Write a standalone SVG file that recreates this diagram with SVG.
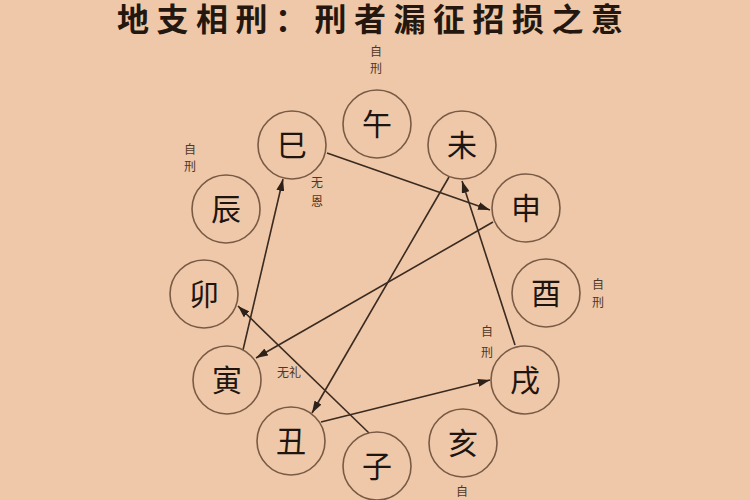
<svg xmlns="http://www.w3.org/2000/svg" width="750" height="500" viewBox="0 0 750 500">
  <defs>
    <marker id="arr" viewBox="0 0 12 8" refX="12" refY="4" markerWidth="12" markerHeight="8" markerUnits="userSpaceOnUse" orient="auto">
      <path d="M0,0 L12,4 L0,8 z" fill="#2e211a"/>
    </marker>
  </defs>
  <style>
    .node circle { fill: none; stroke: #7a5a44; stroke-width: 1.6; }
    .node text { font-family: "Noto Sans CJK SC", "Noto Sans CJK JP", sans-serif; font-size: 30px; fill: #1e1510; text-anchor: middle; }
    .conn line { stroke: #3a2a20; stroke-width: 1.6; marker-end: url(#arr); }
    .note { font-family: "Noto Sans CJK SC", sans-serif; font-size: 12px; fill: #4e3728; text-anchor: middle; }
    .title { font-family: "Noto Sans CJK SC", sans-serif; font-size: 32px; font-weight: 700; fill: #24170f; letter-spacing: 7.5px; }
  </style>
  <rect x="0" y="0" width="750" height="500" fill="#eec8a8"/>
  <text class="title" x="117" y="31">地支相刑：刑者漏征招损之意</text>

  <g id="connectors" class="conn">
    <line x1="327" y1="153" x2="490" y2="210"/>
    <line x1="493" y1="222" x2="256" y2="358"/>
    <line x1="243" y1="350" x2="283" y2="179"/>
    <line x1="449" y1="177" x2="312" y2="413"/>
    <line x1="321" y1="422" x2="490" y2="380"/>
    <line x1="515" y1="345" x2="462" y2="181"/>
    <line x1="369" y1="433" x2="238" y2="306"/>
  </g>

  <g id="node-wu" class="node"><circle cx="377" cy="124" r="34"/><text x="377" y="135">午</text></g>
  <g id="node-wei" class="node"><circle cx="462" cy="145" r="34"/><text x="462" y="156">未</text></g>
  <g id="node-shen" class="node"><circle cx="526" cy="208" r="34"/><text x="526" y="219">申</text></g>
  <g id="node-you" class="node"><circle cx="546" cy="293" r="34"/><text x="546" y="304">酉</text></g>
  <g id="node-xu" class="node"><circle cx="525" cy="380" r="34"/><text x="525" y="391">戌</text></g>
  <g id="node-hai" class="node"><circle cx="463" cy="443" r="34"/><text x="463" y="454">亥</text></g>
  <g id="node-zi" class="node"><circle cx="377" cy="466" r="34"/><text x="377" y="477">子</text></g>
  <g id="node-chou" class="node"><circle cx="291" cy="441" r="34"/><text x="291" y="452">丑</text></g>
  <g id="node-yin" class="node"><circle cx="227" cy="380" r="34"/><text x="227" y="391">寅</text></g>
  <g id="node-mao" class="node"><circle cx="204" cy="294" r="34"/><text x="204" y="305">卯</text></g>
  <g id="node-chen" class="node"><circle cx="226" cy="209" r="34"/><text x="226" y="220">辰</text></g>
  <g id="node-si" class="node"><circle cx="292" cy="145" r="34"/><text x="292" y="156">巳</text></g>

  <g id="notes">
    <text class="note" x="376" y="56">自</text><text class="note" x="376" y="73">刑</text>
    <text class="note" x="190" y="154">自</text><text class="note" x="190" y="171">刑</text>
    <text class="note" x="598" y="289">自</text><text class="note" x="598" y="307">刑</text>
    <text class="note" x="487" y="336">自</text><text class="note" x="487" y="357">刑</text>
    <text class="note" x="462" y="496">自</text>
    <text class="note" x="317" y="187">无</text><text class="note" x="317" y="206">恩</text>
    <text class="note" x="289" y="377">无礼</text>
  </g>
</svg>
